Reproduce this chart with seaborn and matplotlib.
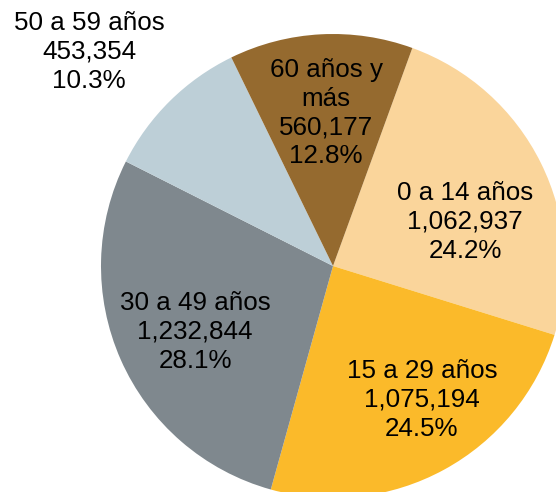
import matplotlib
matplotlib.use("Agg")
import matplotlib.pyplot as plt
import seaborn as sns

# Data
GROUPS = ['0 a 14 años', '15 a 29 años', '30 a 49 años', '50 a 59 años', '60 años y\nmás']
POPULATION = [1062937, 1075194, 1232844, 453354, 560177]
COLORS = ['#FAD59B', '#FBBA2A', '#7F888E', '#BDCFD7', '#956A2F']

# Label centres in pixel coords (x, y from top)
LABEL_POS = [(465, 222), (422, 400), (195, 332), (89, 52), (326, 113)]

W, H = 556, 492


def draw_chart():
    sns.set_theme(style="white")
    plt.rcParams['font.family'] = ['Liberation Sans', 'DejaVu Sans']

    fig = plt.figure(figsize=(W / 100, H / 100), dpi=100)
    ax = fig.add_axes([0, 0, 1, 1])

    ax.pie(POPULATION, colors=sns.color_palette(COLORS), startangle=70,
           counterclock=False, center=(333, H - 266), radius=232,
           wedgeprops={'linewidth': 0})

    total = sum(POPULATION)
    for name, value, (x, y) in zip(GROUPS, POPULATION, LABEL_POS):
        pct = value / total * 100
        ax.text(x, H - y, f"{name}\n{value:,}\n{pct:.1f}%", ha='center', va='center',
                multialignment='center', fontsize=18.7, color='black', linespacing=1.26)

    ax.set_xlim(0, W)
    ax.set_ylim(0, H)
    ax.set_aspect('equal')
    ax.axis('off')

    fig.savefig('out.png', dpi=100, facecolor='white')
    plt.close(fig)


if __name__ == "__main__":
    draw_chart()
